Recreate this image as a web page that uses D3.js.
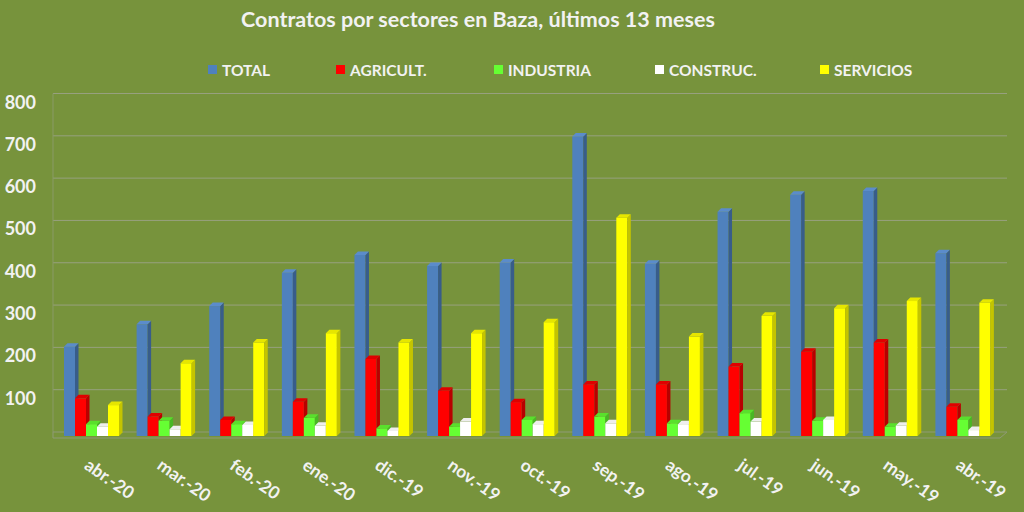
<!DOCTYPE html>
<html>
  <head>
    <meta charset="UTF-8" />
    <style>
      body {
        margin: 0;
        background: #76923c;
      }
      svg text {
        font-family: Lato, "Open Sans", sans-serif;
        font-weight: bold;
        fill: #f2f2f2;
      }
    </style>
  </head>
  <body>
    <svg></svg>
    <script src="https://d3js.org/d3.v7.min.js"></script>
    <script>
      // chart data
      const months = ["abr.-20", "mar.-20", "feb.-20", "ene.-20", "dic.-19", "nov.-19", "oct.-19",
        "sep.-19", "ago.-19", "jul.-19", "jun.-19", "may.-19", "abr.-19"];
      const sectors = ["TOTAL", "AGRICULT.", "INDUSTRIA", "CONSTRUC.", "SERVICIOS"];
      const total = [211, 264, 307, 386, 428, 402, 410, 708, 407, 530, 570, 579, 432];
      const agricult = [89, 46, 38, 81, 182, 107, 80, 122, 122, 164, 199, 221, 69];
      const industria = [28, 36, 28, 43, 18, 22, 38, 46, 30, 54, 36, 22, 38];
      const construc = [22, 16, 26, 24, 12, 34, 28, 30, 28, 34, 38, 24, 14];
      const servicios = [73, 172, 221, 243, 221, 243, 269, 516, 235, 284, 302, 319, 315];
      const yTicks = [100, 200, 300, 400, 500, 600, 700, 800];

      const series = [total, agricult, industria, construc, servicios];
      const frontCol = ["#4f81bd", "#ff0000", "#66ff33", "#ffffff", "#ffff00"];
      const sideCol = ["#385d8a", "#b80000", "#48b824", "#cfcfcf", "#c4c400"];
      const topCol = ["#5b8ccb", "#e00000", "#59e02c", "#eeeeee", "#e6e600"];

      let width = 1024,
        height = 512;
      const dx = 3.5,
        dy = -3.5; // depth of the 3d bars

      let svg = d3.select("svg").attr("width", width).attr("height", height);

      svg.append("rect").attr("width", width).attr("height", height).attr("fill", "#77933c");

      let x = d3.scaleBand().domain(months).range([55, 999]);
      let xs = d3.scaleBand().domain(sectors).range([0, 55]);
      let y = d3.scaleLinear().domain([0, 800]).range([436, 97.5]);

      // back wall grid
      svg
        .append("g")
        .selectAll("line")
        .data(yTicks)
        .enter()
        .append("line")
        .attr("x1", 53)
        .attr("x2", 1007)
        .attr("y1", (d) => y(d) - 4)
        .attr("y2", (d) => y(d) - 4)
        .attr("stroke", "#97a07f")
        .attr("stroke-width", 1);

      svg
        .append("line")
        .attr("x1", 53)
        .attr("x2", 53)
        .attr("y1", y(800) - 4)
        .attr("y2", y(0) - 4)
        .attr("stroke", "#8a9a66");

      // floor
      svg
        .append("path")
        .attr("d", `M53,${y(0) - 4}L1007,${y(0) - 4}L1000,${y(0) + 2}L53,${y(0) + 2}Z`)
        .attr("fill", "none")
        .attr("stroke", "#8f9a77")
        .attr("stroke-width", 1);

      // bars
      let groups = svg
        .append("g")
        .selectAll("g")
        .data(months)
        .enter()
        .append("g")
        .attr("transform", (d) => "translate(" + (x(d) + 9) + ",0)");

      groups.each(function (m, i) {
        let g = d3.select(this);
        sectors.forEach((s, k) => {
          let v = series[k][i];
          let x0 = xs(s),
            w = xs.bandwidth(),
            y0 = y(v),
            y1 = y(0);
          g.append("rect")
            .attr("x", x0)
            .attr("y", y0)
            .attr("width", w)
            .attr("height", y1 - y0)
            .attr("fill", frontCol[k]);
          g.append("path")
            .attr("d", `M${x0 + w},${y0}L${x0 + w + dx},${y0 + dy}L${x0 + w + dx},${y1 + dy}L${x0 + w},${y1}Z`)
            .attr("fill", sideCol[k]);
          g.append("path")
            .attr("d", `M${x0},${y0}L${x0 + dx},${y0 + dy}L${x0 + w + dx},${y0 + dy}L${x0 + w},${y0}Z`)
            .attr("fill", topCol[k]);
        });
      });

      // y axis labels
      svg
        .append("g")
        .selectAll("text")
        .data(yTicks)
        .enter()
        .append("text")
        .attr("x", 36)
        .attr("y", (d) => y(d) + 4)
        .attr("text-anchor", "end")
        .attr("dominant-baseline", "central")
        .style("font-size", "18px")
        .text((d) => d);

      // month labels, rotated
      svg
        .append("g")
        .selectAll("text")
        .data(months)
        .enter()
        .append("text")
        .attr("transform", (d) => "translate(" + (x(d) + x.bandwidth() / 2 - 8) + ",468) rotate(35)")
        .style("font-size", "17.5px")
        .text((d) => d);

      // title
      svg
        .append("text")
        .attr("x", 478)
        .attr("y", 27)
        .attr("text-anchor", "middle")
        .style("font-size", "21.5px")
        .text("Contratos por sectores en Baza, últimos 13 meses");

      // legend
      const legendX = [208, 336, 494, 655, 820];
      let legend = svg
        .append("g")
        .selectAll("g")
        .data(sectors)
        .enter()
        .append("g")
        .attr("transform", (d, i) => "translate(" + legendX[i] + ",65)");
      legend
        .append("rect")
        .attr("width", 9)
        .attr("height", 9)
        .attr("fill", (d, i) => frontCol[i]);
      legend
        .append("text")
        .attr("x", 14)
        .attr("y", 10.5)
        .style("font-size", "15.5px")
        .text((d) => d);
    </script>
  </body>
</html>
